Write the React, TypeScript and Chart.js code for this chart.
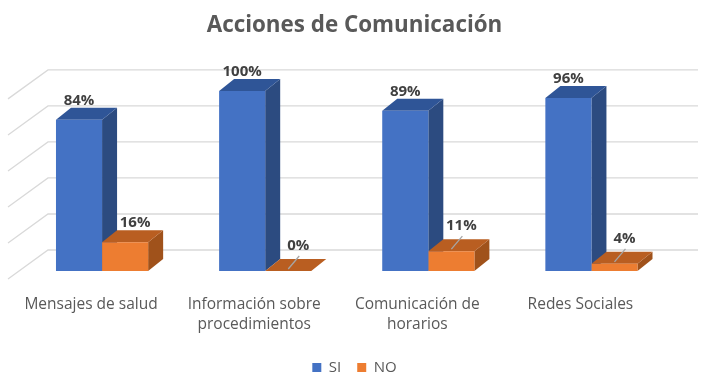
import React, { useEffect, useRef } from "react";
import { Chart, registerables } from "chart.js";

Chart.register(...registerables);

const titleText = "Acciones de Comunicación";
const categories: (string | string[])[] = [
  "Mensajes de salud",
  ["Información sobre", "procedimientos"],
  ["Comunicación de", "horarios"],
  "Redes Sociales",
];
const seriesNames = ["SI", "NO"];
const siValues = [84, 100, 89, 96];
const noValues = [16, 0, 11, 4];
const yTicks = [0, 20, 40, 60, 80, 100];

const FONT = "'Open Sans', 'DejaVu Sans', sans-serif";
const faceColors = [
  { front: "#4472C4", top: "#2F5597", side: "#2C4B80" },
  { front: "#ED7D31", top: "#B95E21", side: "#A0521B" },
];
const DEPTH_X = 15;
const DEPTH_Y = -12;

const threeD = {
  id: "threeD",
  beforeDatasetsDraw(chart: any) {
    const ctx = chart.ctx;
    const area = chart.chartArea;
    const yScale = chart.scales.y;
    ctx.save();
    ctx.strokeStyle = "#D9D9D9";
    ctx.lineWidth = 1.3;
    const wallLeft = area.left + 27.5;
    const wallRight = area.right + 25;
    for (const t of yTicks) {
      const yb = yScale.getPixelForValue(t) - 21;
      ctx.beginPath();
      ctx.moveTo(area.left - 12.5, yb + 29);
      ctx.lineTo(wallLeft, yb);
      ctx.lineTo(wallRight, yb);
      ctx.stroke();
    }
    ctx.restore();
    chart.data.datasets.forEach((ds: any, di: number) => {
      const meta = chart.getDatasetMeta(di);
      const c = faceColors[di];
      meta.data.forEach((bar: any) => {
        const { x, y, base, width } = bar.getProps(["x", "y", "base", "width"], true);
        const l = x - width / 2;
        const r = x + width / 2;
        ctx.save();
        ctx.fillStyle = c.side;
        ctx.beginPath();
        ctx.moveTo(r, y);
        ctx.lineTo(r + DEPTH_X, y + DEPTH_Y);
        ctx.lineTo(r + DEPTH_X, base + DEPTH_Y);
        ctx.lineTo(r, base);
        ctx.closePath();
        ctx.fill();
        ctx.fillStyle = c.top;
        ctx.beginPath();
        ctx.moveTo(l, y);
        ctx.lineTo(l + DEPTH_X, y + DEPTH_Y);
        ctx.lineTo(r + DEPTH_X, y + DEPTH_Y);
        ctx.lineTo(r, y);
        ctx.closePath();
        ctx.fill();
        ctx.restore();
      });
    });
  },
  afterDatasetsDraw(chart: any) {
    const ctx = chart.ctx;
    ctx.save();
    ctx.font = `bold 15px ${FONT}`;
    ctx.fillStyle = "#404040";
    ctx.textAlign = "center";
    ctx.textBaseline = "middle";
    chart.data.datasets.forEach((ds: any, di: number) => {
      const meta = chart.getDatasetMeta(di);
      meta.data.forEach((bar: any, i: number) => {
        const v = ds.data[i];
        const { x, y } = bar.getProps(["x", "y"], true);
        let lx = x;
        let ly = y - 19;
        if (di === 1) {
          lx = x + 10;
          if (v < 15) {
            ly = y - 25;
            ctx.save();
            ctx.strokeStyle = "#A6A6A6";
            ctx.lineWidth = 1.3;
            ctx.beginPath();
            ctx.moveTo(lx + 1, ly + 10);
            ctx.lineTo(x, y - 2);
            ctx.stroke();
            ctx.restore();
          }
        }
        ctx.fillText(`${v}%`, lx, ly);
      });
    });
    ctx.restore();
  },
};

const hiddenAxis = (width: number, position: string) => ({
  type: "linear",
  position,
  display: true,
  grid: { display: false, drawTicks: false },
  border: { display: false },
  ticks: { display: false },
  afterFit: (scale: any) => {
    scale.width = width;
  },
});

export default function App() {
  const ref = useRef<HTMLCanvasElement>(null);
  useEffect(() => {
    document.body.style.margin = "0";
    const chart = new Chart(ref.current!, {
      type: "bar",
      data: {
        labels: categories as any,
        datasets: [
          {
            label: seriesNames[0],
            data: siValues,
            backgroundColor: faceColors[0].front,
            borderWidth: 0,
          },
          {
            label: seriesNames[1],
            data: noValues,
            backgroundColor: faceColors[1].front,
            borderWidth: 0,
          },
        ],
      },
      options: {
        animation: false,
        responsive: true,
        maintainAspectRatio: false,
        layout: { padding: { left: 0, right: 5, top: 0, bottom: 0 } },
        datasets: { bar: { categoryPercentage: 0.565, barPercentage: 1 } },
        scales: {
          x: {
            grid: { display: false, drawTicks: false },
            border: { display: false },
            ticks: {
              color: "#595959",
              font: { family: FONT, size: 15.5, lineHeight: 1.26 },
              padding: 24,
              labelOffset: -11,
              maxRotation: 0,
              autoSkip: false,
            },
            afterFit: (scale: any) => {
              scale.height = 73;
            },
          },
          y: { ...(hiddenAxis(20.5, "left") as any), min: 0, max: 100 },
          yRight: { ...(hiddenAxis(36, "right") as any), min: 0, max: 100 },
        },
        plugins: {
          title: {
            display: true,
            text: titleText,
            color: "#595959",
            font: { family: FONT, size: 22.4, weight: "bold" },
            padding: { top: 12, bottom: 52 },
          },
          legend: {
            position: "bottom",
            labels: {
              boxWidth: 9,
              boxHeight: 9,
              color: "#595959",
              font: { family: FONT, size: 15 },
              padding: 16,
            },
          },
          tooltip: { enabled: false },
        },
      },
      plugins: [threeD],
    });
    return () => chart.destroy();
  }, []);
  return (
    <div style={{ width: 714, height: 385, position: "relative", background: "#fff" }}>
      <canvas ref={ref} />
    </div>
  );
}
